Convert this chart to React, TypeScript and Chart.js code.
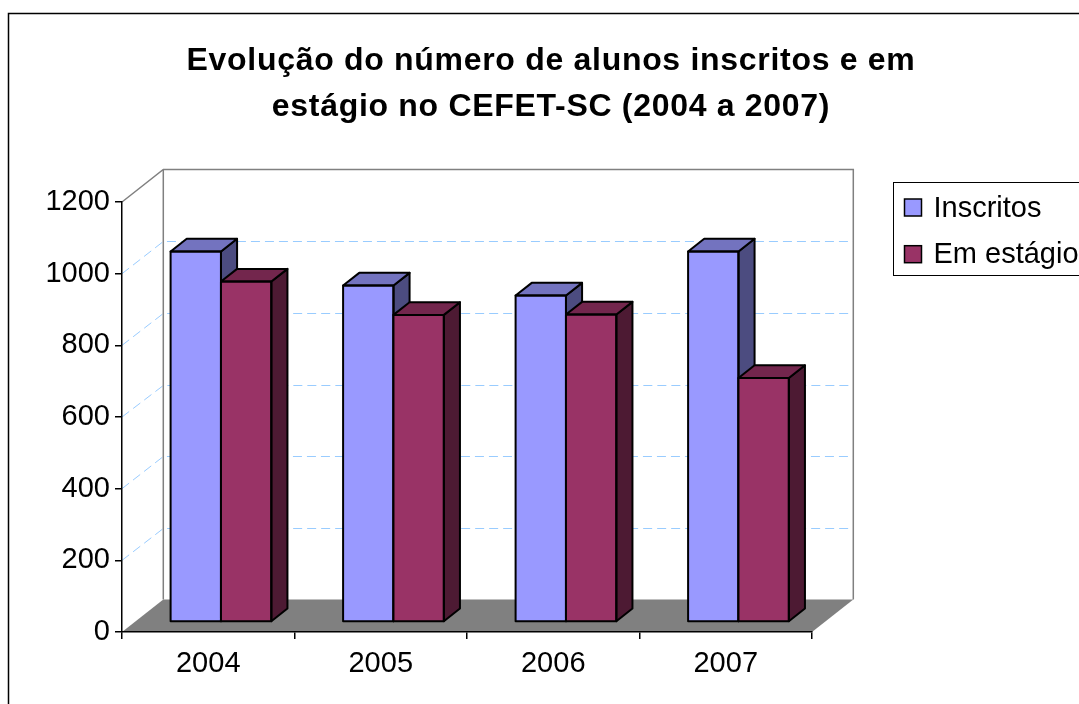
import React, { useEffect, useRef } from "react";
import { Chart, registerables } from "chart.js";

Chart.register(...registerables);

// ---------- data ----------
const categories = ["2004", "2005", "2006", "2007"];
const inscritos = [1034, 939, 911, 1034];
const emEstagio = [950, 857, 858, 681];
const seriesNames = ["Inscritos", "Em estágio"];
const yMin = 0;
const yMax = 1200;
const yStep = 200;
const titleLines = [
  "Evolução do número de alunos inscritos e em",
  "estágio no CEFET-SC (2004 a 2007)",
];

// ---------- style ----------
const FONT = "'Liberation Sans', Arial, Helvetica, sans-serif";
const FRONT = ["#9999FF", "#993366"];
const TOP = ["#7373BF", "#73264D"];
const SIDE = ["#4C4C80", "#4D1A33"];
const DEPTH_DX = 41.3;
const DEPTH_DY = -32.5;
const BAR_FRONT = 0.308;
const BAR_DEPTH = 0.39;
const GRID_COLOR = "#99CCFF";
const WALL_COLOR = "#808080";

const threeD = {
  id: "threeD",
  beforeDraw(chart: any) {
    const { ctx, chartArea: a } = chart;
    const y = chart.scales.y;
    ctx.save();
    ctx.fillStyle = "#ffffff";
    ctx.fillRect(0, 0, chart.width, chart.height);
    // outer border of chart (extends beyond the visible window)
    ctx.strokeStyle = "#000";
    ctx.lineWidth = 1.5;
    ctx.strokeRect(8.5, 13.5, chart.width + 40, chart.height + 40);

    const L = a.left;
    const R = a.right;
    const y0 = y.getPixelForValue(yMin);
    const yT = y.getPixelForValue(yMax);
    // floor
    ctx.fillStyle = WALL_COLOR;
    ctx.beginPath();
    ctx.moveTo(L, y0);
    ctx.lineTo(R, y0);
    ctx.lineTo(R + DEPTH_DX, y0 + DEPTH_DY);
    ctx.lineTo(L + DEPTH_DX, y0 + DEPTH_DY);
    ctx.closePath();
    ctx.fill();
    // gridlines on side and back walls
    ctx.strokeStyle = GRID_COLOR;
    ctx.lineWidth = 1;
    ctx.setLineDash([9, 5]);
    for (let v = yMin + yStep; v < yMax; v += yStep) {
      const yp = y.getPixelForValue(v);
      const yb = Math.round(yp + DEPTH_DY) + 0.5;
      ctx.beginPath();
      ctx.moveTo(L, yp);
      ctx.lineTo(L + DEPTH_DX, yb);
      ctx.lineTo(R + DEPTH_DX, yb);
      ctx.stroke();
    }
    ctx.setLineDash([]);
    // wall edges
    ctx.strokeStyle = WALL_COLOR;
    ctx.lineWidth = 1.5;
    ctx.beginPath();
    ctx.moveTo(L, yT);
    ctx.lineTo(L + DEPTH_DX, yT + DEPTH_DY);
    ctx.lineTo(R + DEPTH_DX, yT + DEPTH_DY);
    ctx.lineTo(R + DEPTH_DX, y0 + DEPTH_DY);
    ctx.moveTo(L + DEPTH_DX, yT + DEPTH_DY);
    ctx.lineTo(L + DEPTH_DX, y0 + DEPTH_DY);
    ctx.stroke();

    // title
    ctx.fillStyle = "#000";
    ctx.textAlign = "center";
    ctx.textBaseline = "alphabetic";
    ctx.font = `bold 32px ${FONT}`;
    const hasLS = "letterSpacing" in ctx;
    if (hasLS) (ctx as any).letterSpacing = "0.7px";
    titleLines.forEach((line, i) => {
      ctx.fillText(line, 551, 69.5 + i * 46.7);
    });
    if (hasLS) (ctx as any).letterSpacing = "0px";
    ctx.restore();
  },
  beforeDatasetsDraw(chart: any) {
    const ctx = chart.ctx;
    ctx.save();
    ctx.translate(BAR_FRONT * DEPTH_DX, BAR_FRONT * DEPTH_DY);
  },
  afterDatasetsDraw(chart: any) {
    const ctx = chart.ctx;
    ctx.restore();
    const ox = BAR_FRONT * DEPTH_DX;
    const oy = BAR_FRONT * DEPTH_DY;
    const bx = BAR_DEPTH * DEPTH_DX;
    const by = BAR_DEPTH * DEPTH_DY;
    const poly = (pts: number[][], fill: string) => {
      ctx.beginPath();
      ctx.moveTo(pts[0][0], pts[0][1]);
      for (let i = 1; i < pts.length; i++) ctx.lineTo(pts[i][0], pts[i][1]);
      ctx.closePath();
      ctx.fillStyle = fill;
      ctx.fill();
      ctx.stroke();
    };
    ctx.save();
    ctx.lineWidth = 2;
    ctx.strokeStyle = "#000";
    ctx.lineJoin = "round";
    chart.data.datasets.forEach((_ds: any, di: number) => {
      const meta = chart.getDatasetMeta(di);
      meta.data.forEach((bar: any) => {
        const p = bar.getProps(["x", "y", "base", "width"], true);
        const l = p.x - p.width / 2 + ox;
        const r = p.x + p.width / 2 + ox;
        const t = p.y + oy;
        const b = p.base + oy;
        if (di > 0) {
          ctx.fillStyle = FRONT[di];
          ctx.fillRect(l, t, r - l, b - t);
        }
        poly([[r, t], [r + bx, t + by], [r + bx, b + by], [r, b]], SIDE[di]);
        poly([[l, t], [l + bx, t + by], [r + bx, t + by], [r, t]], TOP[di]);
        ctx.strokeRect(l, t, r - l, b - t);
      });
    });
    ctx.restore();
  },
  afterDraw(chart: any) {
    const { ctx, chartArea: a } = chart;
    ctx.save();
    const boxL = a.right + 81.5;
    const boxT = 182.5;
    ctx.strokeStyle = "#000";
    ctx.lineWidth = 1;
    ctx.strokeRect(boxL, boxT, 400, 93);
    ctx.font = `29px ${FONT}`;
    ctx.textBaseline = "alphabetic";
    ctx.textAlign = "left";
    chart.data.datasets.forEach((ds: any, i: number) => {
      const base = 216.7 + i * 46.7;
      ctx.fillStyle = ds.backgroundColor;
      ctx.fillRect(boxL + 11, base - 17.7, 17, 17);
      ctx.lineWidth = 1.5;
      ctx.strokeRect(boxL + 11, base - 17.7, 17, 17);
      ctx.fillStyle = "#000";
      ctx.fillText(ds.label, boxL + 40, base);
    });
    ctx.restore();
  },
};

export default function App() {
  const ref = useRef<HTMLCanvasElement | null>(null);
  useEffect(() => {
    if (!ref.current) return;
    const chart = new Chart(ref.current, {
      type: "bar",
      data: {
        labels: categories,
        datasets: [
          {
            label: seriesNames[0],
            data: inscritos,
            backgroundColor: FRONT[0],
            borderWidth: 0,
            categoryPercentage: 0.584,
            barPercentage: 1,
          },
          {
            label: seriesNames[1],
            data: emEstagio,
            backgroundColor: FRONT[1],
            borderWidth: 0,
            categoryPercentage: 0.584,
            barPercentage: 1,
          },
        ],
      },
      options: {
        responsive: false,
        animation: false,
        devicePixelRatio: 1,
        layout: { padding: { left: 0, top: 202, right: 0, bottom: 0 } },
        plugins: {
          legend: { display: false },
          tooltip: { enabled: false },
          title: { display: false },
        },
        scales: {
          x: {
            type: "category",
            position: "bottom",
            grid: {
              display: true,
              drawOnChartArea: false,
              drawTicks: true,
              tickLength: 7,
              color: "#000",
              lineWidth: 1.5,
            },
            border: { display: true, color: "#000", width: 1.5 },
            ticks: {
              color: "#000",
              font: { family: FONT, size: 29 },
              padding: 8,
              maxRotation: 0,
              autoSkip: false,
            },
            afterFit: (s: any) => {
              s.height = 72;
            },
          },
          y: {
            type: "linear",
            position: "left",
            min: yMin,
            max: yMax,
            grid: {
              display: true,
              drawOnChartArea: false,
              drawTicks: true,
              tickLength: 7,
              color: "#000",
              lineWidth: 1.5,
            },
            border: { display: true, color: "#000", width: 1.5 },
            ticks: {
              stepSize: yStep,
              color: "#000",
              font: { family: FONT, size: 29 },
              padding: 5,
              callback: (v: any) => String(v),
            },
            afterFit: (s: any) => {
              s.width = 122;
            },
          },
          legendSpace: {
            type: "linear",
            position: "right",
            display: true,
            grid: { display: false },
            border: { display: false },
            ticks: { display: false },
            afterFit: (s: any) => {
              s.width = 267;
            },
          },
        },
      } as any,
      plugins: [threeD],
    });
    return () => chart.destroy();
  }, []);
  return (
    <div style={{ position: "fixed", left: 0, top: 0, width: 1079, height: 704 }}>
      <canvas ref={ref} width={1079} height={704} style={{ display: "block" }} />
    </div>
  );
}
